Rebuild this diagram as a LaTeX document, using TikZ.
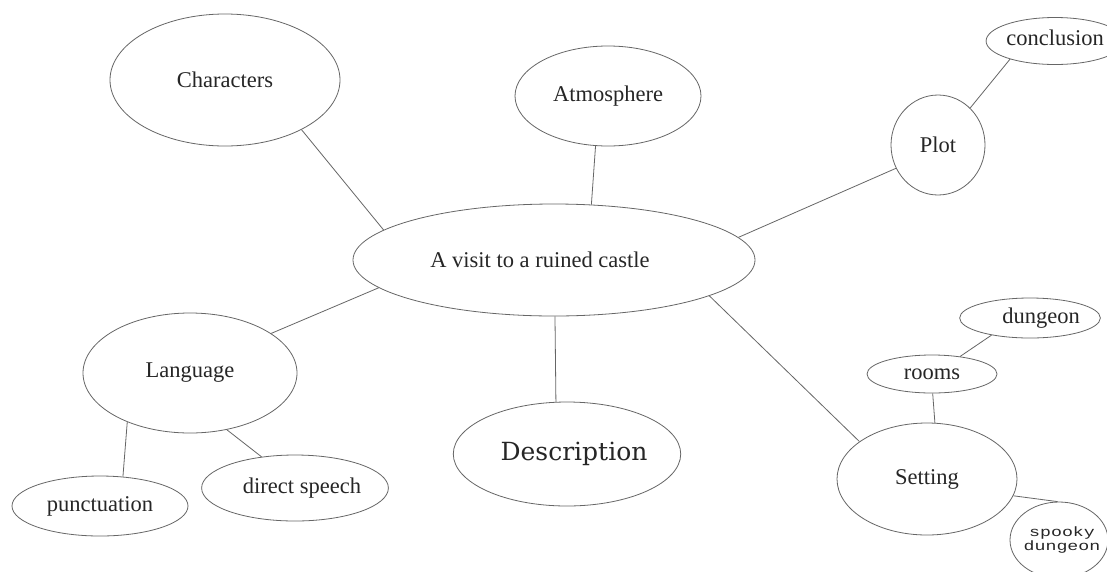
\documentclass[tikz,border=0pt]{standalone}
\usepackage{fontspec}
\setmainfont{Liberation Serif}
\newfontfamily\descfont{DejaVu Serif}
\newfontfamily\spookyfont[FakeStretch=1.35]{Liberation Mono}
\usetikzlibrary{shapes.geometric}
\tikzset{
  bub/.style={ellipse, draw=black!60, line width=0.8pt, inner sep=0pt, text=black!85,
    font=\fontsize{22.5}{27}\selectfont, align=center},
  link/.style={draw=black!60, line width=0.8pt}
}
\begin{document}
\begin{tikzpicture}[x=1pt,y=-1pt]
\useasboundingbox[fill=white] (0,0) rectangle (1107,571);
% nodes
\node[bub, minimum width=402pt, minimum height=112pt] (main) at (554,260) {A visit to a ruined castle\hspace*{28pt}};
\node[bub, minimum width=230pt, minimum height=132pt] (chars) at (225,80) {Characters};
\node[bub, minimum width=186pt, minimum height=100pt] (atmo) at (608,96) {Atmosphere};
\node[bub, minimum width=94pt, minimum height=100pt] (plot) at (938,145) {Plot};
\node[bub, minimum width=116pt, minimum height=47pt] (concl) at (1055,41) {\raisebox{6pt}{conclusion}};
\node[bub, minimum width=214pt, minimum height=120pt] (lang) at (190,373) {\raisebox{5pt}{Language}};
\node[bub, minimum width=176pt, minimum height=60pt] (punct) at (100,506) {punctuation};
\node[bub, minimum width=158pt, minimum height=66pt] (speech) at (295,488) {\hspace*{14pt}direct speech};
\node[bub, minimum width=204pt, minimum height=104pt, font=\descfont\fontsize{25}{30}\selectfont] (desc) at (567,454) {\hspace*{14pt}Description};
\node[bub, minimum width=180pt, minimum height=112pt] (set) at (927,479) {\raisebox{-3pt}{Setting}};
\node[bub, minimum width=130pt, minimum height=38pt] (rooms) at (932,374) {rooms};
\node[bub, minimum width=114pt, minimum height=40pt] (dung) at (1030,318) {\hspace*{22pt}\raisebox{4pt}{dungeon}};
\node[bub, minimum width=98pt, minimum height=76pt, inner sep=-14pt, font=\spookyfont\fontsize{13.5}{15}\selectfont] (spooky) at (1059,540) {\hspace*{6pt}spooky\\[-1pt]\hspace*{6pt}dungeon};
% connectors
\draw[link] (chars.-33.5) -- (main.170);
\draw[link] (atmo.-104.6) -- (main.56.8);
\draw[link] (plot.-151) -- (main.7.1);
\draw[link] (plot.49) -- (concl.202.8);
\draw[link] (lang.26.3) -- (main.189);
\draw[link] (lang.218) -- (punct.52.8);
\draw[link] (lang.-57.7) -- (speech.137.6);
\draw[link] (main.-89) -- (desc.102);
\draw[link] (main.-13.6) -- (set.151.8);
\draw[link] (set.82.7) -- (rooms.-88);
\draw[link] (rooms.32.8) -- (dung.204.7);
\draw[link] (set.-11) -- (spooky.92);
\end{tikzpicture}
\end{document}
